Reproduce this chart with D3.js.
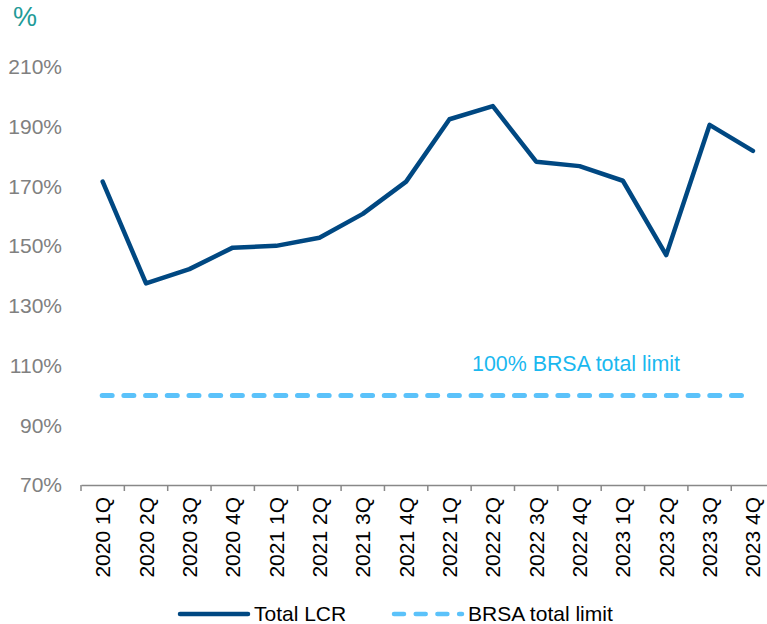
<!DOCTYPE html>
<html>
<head>
<meta charset="utf-8">
<script src="https://cdn.jsdelivr.net/npm/d3@7"></script>
<style>
  body { margin: 0; background: #fff; }
  text { font-family: "Liberation Sans", Arial, sans-serif; }
</style>
</head>
<body>
<svg id="chart" width="767" height="624"></svg>
<script>
const quarters = ['2020 1Q', '2020 2Q', '2020 3Q', '2020 4Q', '2021 1Q', '2021 2Q', '2021 3Q', '2021 4Q',
  '2022 1Q', '2022 2Q', '2022 3Q', '2022 4Q', '2023 1Q', '2023 2Q', '2023 3Q', '2023 4Q']
const totalLcr = [171.6, 137.5, 142.3, 149.5, 150.1, 152.8, 160.8, 171.6,
  192.5, 196.9, 178.3, 176.8, 171.9, 147.0, 190.6, 181.9]
const brsaLimit = quarters.map(() => 100)
const yTicks = [70, 90, 110, 130, 150, 170, 190, 210]

const svg = d3.select('#chart')

const x = d3.scaleBand()
  .domain(quarters)
  .range([81, 774.6])
  .padding(0)

const y = d3.scaleLinear()
  .domain([70, 210])
  .range([485, 67])

const cx = d => x(d) + x.bandwidth() / 2

// unit label
svg.append('text')
  .attr('x', 13)
  .attr('y', 26)
  .attr('fill', '#1f9b98')
  .style('font-size', '27px')
  .text('%')

// y axis labels (no axis line)
svg.append('g')
  .selectAll('text')
  .data(yTicks)
  .join('text')
  .attr('x', 62)
  .attr('y', d => y(d))
  .attr('dy', '0.35em')
  .attr('text-anchor', 'end')
  .attr('fill', '#808080')
  .style('font-size', '21px')
  .text(d => d + '%')

// x axis
const xAxis = svg.append('g')
  .attr('transform', `translate(0, ${y(70)})`)
  .call(d3.axisBottom(x).tickSize(0).tickFormat(''))
xAxis.select('.domain').attr('stroke', '#888').attr('stroke-width', 1.5)

xAxis.selectAll('line.sep')
  .data(d3.range(quarters.length + 1))
  .join('line')
  .classed('sep', true)
  .attr('x1', i => 81 + i * x.bandwidth())
  .attr('x2', i => 81 + i * x.bandwidth())
  .attr('y1', 0)
  .attr('y2', 6)
  .attr('stroke', '#888')
  .attr('stroke-width', 1.5)

svg.append('g')
  .selectAll('text')
  .data(quarters)
  .join('text')
  .attr('transform', d => `translate(${cx(d) + 7.5}, 497) rotate(-90)`)
  .attr('text-anchor', 'end')
  .attr('fill', '#000')
  .style('font-size', '21px')
  .text(d => d)

// BRSA limit
svg.append('path')
  .datum(brsaLimit)
  .attr('fill', 'none')
  .attr('stroke', '#5bc2fa')
  .attr('stroke-width', 5)
  .attr('stroke-linecap', 'round')
  .attr('stroke-dasharray', '10,11.7')
  .attr('d', d3.line().x((d, i) => cx(quarters[i]) - 0.5).y(d => y(d)))

svg.append('text')
  .attr('x', 472)
  .attr('y', 371)
  .attr('fill', '#1ab8ef')
  .style('font-size', '21.4px')
  .text('100% BRSA total limit')

// Total LCR
svg.append('path')
  .datum(totalLcr)
  .attr('fill', 'none')
  .attr('stroke', '#004882')
  .attr('stroke-width', 4.5)
  .attr('stroke-linejoin', 'round')
  .attr('stroke-linecap', 'round')
  .attr('d', d3.line().x((d, i) => cx(quarters[i])).y(d => y(d)))

// legend
const legend = svg.append('g')
legend.append('line')
  .attr('x1', 180).attr('x2', 248)
  .attr('y1', 614).attr('y2', 614)
  .attr('stroke', '#004882')
  .attr('stroke-width', 4.5)
  .attr('stroke-linecap', 'round')
legend.append('text')
  .attr('x', 254).attr('y', 621)
  .style('font-size', '21px')
  .text('Total LCR')
legend.append('line')
  .attr('x1', 394).attr('x2', 462)
  .attr('y1', 614).attr('y2', 614)
  .attr('stroke', '#5bc2fa')
  .attr('stroke-width', 4.5)
  .attr('stroke-linecap', 'round')
  .attr('stroke-dasharray', '10,11.7')
legend.append('text')
  .attr('x', 468).attr('y', 621)
  .style('font-size', '21px')
  .text('BRSA total limit')
</script>
</body>
</html>
